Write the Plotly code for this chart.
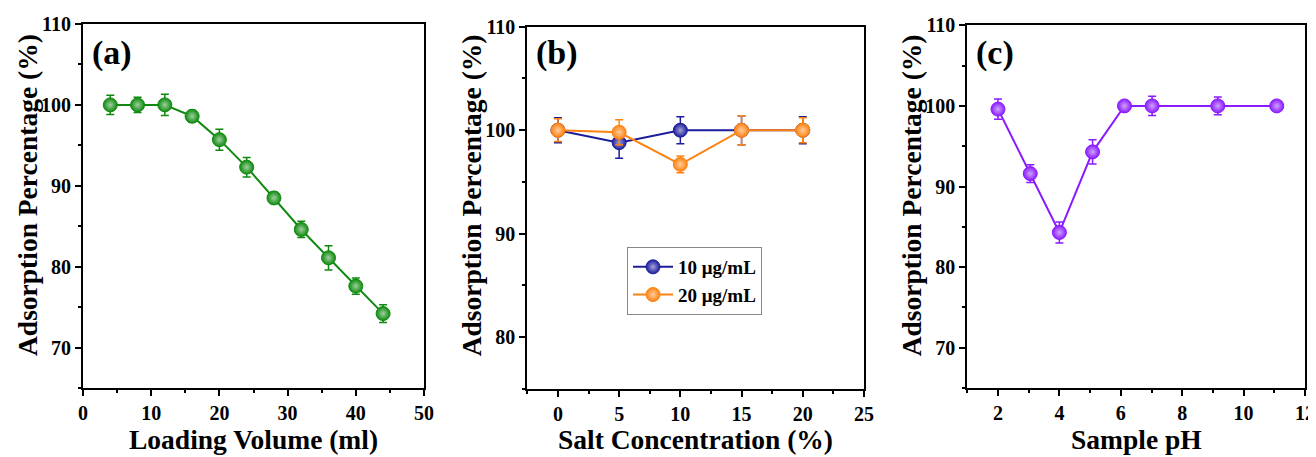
import plotly.graph_objects as go

# ---- data ----
vol_x = [4, 8, 12, 16, 20, 24, 28, 32, 36, 40, 44]
vol_y = [100, 100, 100, 98.6, 95.7, 92.3, 88.5, 84.6, 81.1, 77.6, 74.2]
vol_err = [1.2, 0.95, 1.3, 0.7, 1.3, 1.2, 0.7, 1.0, 1.5, 1.0, 1.1]

salt_x = [0, 5, 10, 15, 20]
salt10_y = [100, 98.8, 100, 100, 100]
salt10_err = [1.2, 1.5, 1.3, 1.4, 1.3]
salt20_y = [100, 99.8, 96.7, 100, 100]
salt20_err = [1.1, 1.2, 0.8, 1.4, 1.2]

ph_x = [2, 3.05, 4, 5.08, 6.12, 7.02, 9.16, 11.08]
ph_y = [99.6, 91.6, 84.3, 94.3, 100, 100, 100, 100]
ph_err = [1.25, 1.1, 1.3, 1.5, 0.5, 1.2, 1.1, 0.5]

series_names = ["10 μg/mL", "20 μg/mL"]
panel_labels = ["(a)", "(b)", "(c)"]
x_titles = ["Loading Volume (ml)", "Salt Concentration (%)", "Sample pH"]
y_title = "Adsorption Percentage (%)"

OFF = 8  # page body margin
W, H = 1316 - OFF, 457 - OFF
FONT = "Liberation Serif"

GREEN = "#0f8a0f"
BLUE = "#1c1c9c"
ORANGE = "#ff8210"
PURPLE = "#8a1aff"

def light(c):
    r, g, b = int(c[1:3], 16), int(c[3:5], 16), int(c[5:7], 16)
    f = 0.6
    return "#%02x%02x%02x" % (int(r + (255 - r) * f), int(g + (255 - g) * f), int(b + (255 - b) * f))

fig = go.Figure()

def add(x, y, e, color, xa, ya, name=None, show=False):
    fig.add_trace(go.Scatter(
        x=x, y=y, mode="lines+markers", name=name, showlegend=show,
        xaxis=xa, yaxis=ya,
        line=dict(color=color, width=2),
        marker=dict(size=14, color=color, line=dict(color=color, width=1),
                    gradient=dict(type="radial", color=light(color))),
        error_y=dict(type="data", array=e, visible=True, color=color, thickness=1.5, width=4),
    ))

add(vol_x, vol_y, vol_err, GREEN, "x", "y")
add(salt_x, salt10_y, salt10_err, BLUE, "x2", "y2", series_names[0], True)
add(salt_x, salt20_y, salt20_err, ORANGE, "x2", "y2", series_names[1], True)
add(ph_x, ph_y, ph_err, PURPLE, "x3", "y3")

tickfont = dict(family=FONT, size=20, color="black", weight="bold")

def px_x(p):
    return (p - OFF) / W

def px_y(p):
    return 1 - (p - OFF) / H

doms = [
    ((83, 424), (24, 388), [0, 50], 10, [65, 110], 10),
    ((527.3, 864), (26.7, 389), [-2.5, 25], 5, [75, 110], 10),
    ((967.3, 1305), (25.3, 388), [1, 12], 2, [65, 110], 10),
]

layout = dict(
    width=W, height=H, autosize=False,
    margin=dict(l=0, r=0, t=0, b=0, pad=0, autoexpand=False),
    plot_bgcolor="white", paper_bgcolor="white",
    font=dict(family=FONT, color="black"),
    legend=dict(x=px_x(627), y=px_y(247), xanchor="left", yanchor="top",
                bgcolor="white", bordercolor="#888888", borderwidth=1,
                font=dict(family=FONT, size=19, color="black", weight="bold"),
                tracegroupgap=0, itemwidth=40),
)

annotations = []
for i, ((x0, x1), (yt, yb), xr, xd, yr, yd) in enumerate(doms):
    sfx = "" if i == 0 else str(i + 1)
    layout["xaxis" + sfx] = dict(
        domain=[px_x(x0), px_x(x1)], range=xr, dtick=xd, tick0=0, automargin=False,
        showgrid=False, zeroline=False, showline=True, linecolor="black", linewidth=2,
        mirror=True, ticks="outside", ticklen=6, tickwidth=2, tickcolor="black",
        tickfont=tickfont, anchor="y" + sfx,
        minor=dict(dtick=xd / 2, ticks="outside", ticklen=3, tickwidth=2, tickcolor="black", tick0=0),
    )
    layout["yaxis" + sfx] = dict(
        domain=[px_y(yb), px_y(yt)], range=yr, dtick=yd, tick0=0, automargin=False,
        showgrid=False, zeroline=False, showline=True, linecolor="black", linewidth=2,
        mirror=True, ticks="outside", ticklen=6, tickwidth=2, tickcolor="black",
        tickfont=tickfont, anchor="x" + sfx,
        minor=dict(dtick=yd / 2, ticks="outside", ticklen=3, tickwidth=2, tickcolor="black", tick0=0),
    )
    # panel label
    annotations.append(dict(
        text=panel_labels[i], xref="paper", yref="paper",
        x=px_x(x0 + 7), y=px_y(53), xanchor="left", yanchor="middle",
        showarrow=False, font=dict(family=FONT, size=34, color="black", weight="bold"),
    ))
    # x title
    annotations.append(dict(
        text=x_titles[i], xref="paper", yref="paper",
        x=px_x((x0 + x1) / 2), y=px_y(439), xanchor="center", yanchor="middle",
        showarrow=False, font=dict(family=FONT, size=27.5, color="black", weight="bold"),
    ))
    # y title
    annotations.append(dict(
        text=y_title, xref="paper", yref="paper",
        x=px_x(x0 - 55), y=px_y(195), xanchor="center", yanchor="middle",
        textangle=-90,
        showarrow=False, font=dict(family=FONT, size=27.5, color="black", weight="bold"),
    ))

layout["annotations"] = annotations
fig.update_layout(**layout)
fig.write_html("out.html")
